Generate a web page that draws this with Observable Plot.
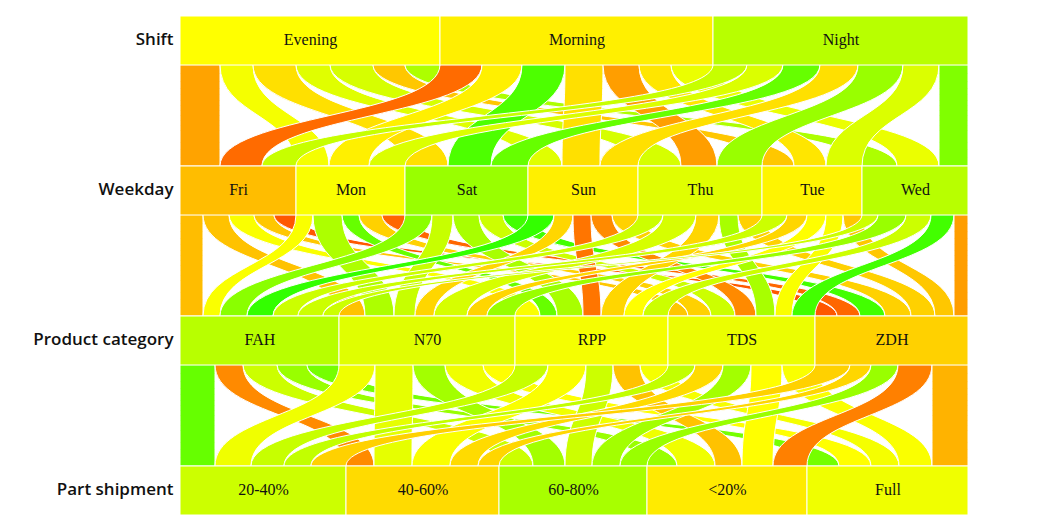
<!DOCTYPE html>
<html><head><meta charset="utf-8">
<script src="https://cdn.jsdelivr.net/npm/d3@7"></script>
<script src="https://cdn.jsdelivr.net/npm/@observablehq/plot@0.6"></script>
<style>body{margin:0;background:#fff;}</style>
</head><body><div id="chart"></div>
<script>
// ---- categories ----
const dimensions = ["Shift", "Weekday", "Product category", "Part shipment"];
const shifts = ["Evening", "Morning", "Night"];
const weekdays = ["Fri", "Mon", "Sat", "Sun", "Thu", "Tue", "Wed"];
const products = ["FAH", "N70", "RPP", "TDS", "ZDH"];
const parts = ["20-40%", "40-60%", "60-80%", "<20%", "Full"];

// ---- category scores (colour metric) ----
const shiftScore = [50, 47, 64];
const weekdayScore = [37, 51, 70, 47, 56, 48, 64];
const productScore = [64, 56, 52, 54, 41];
const partScore = [60, 43, 67, 46, 53];

// ---- flows: rows = upper dimension, columns = lower dimension ----
const shiftWeekdayCount = [
  [40, 33, 43, 34, 43, 32, 35],
  [42, 40, 43, 38, 36, 32, 42],
  [34, 36, 37, 38, 45, 36, 29]
];
const shiftWeekdayScore = [
  [32, 52, 44, 56, 58, 39, 66],
  [21, 47, 85, 44, 31, 45, 54],
  [61, 57, 80, 44, 70, 57, 75]
];
const weekdayProductCount = [
  [23, 26, 25, 20, 22],
  [17, 29, 17, 23, 23],
  [27, 21, 26, 24, 25],
  [26, 19, 18, 21, 26],
  [25, 33, 23, 19, 24],
  [25, 20, 19, 17, 19],
  [16, 28, 25, 23, 14]
];
const weekdayProductScore = [
  [37, 38, 51, 39, 17],
  [51, 66, 80, 41, 20],
  [73, 61, 67, 60, 87],
  [90, 42, 23, 27, 41],
  [60, 58, 42, 67, 41],
  [60, 42, 50, 51, 39],
  [60, 70, 60, 87, 31]
];
const productPartCount = [
  [35, 28, 34, 30, 32],
  [36, 38, 32, 38, 32],
  [33, 38, 27, 27, 28],
  [27, 28, 28, 31, 33],
  [35, 21, 27, 34, 36]
];
const productPartScore = [
  [80, 27, 60, 70, 77],
  [53, 55, 68, 53, 50],
  [61, 51, 60, 38, 52],
  [62, 43, 68, 50, 51],
  [41, 42, 70, 25, 35]
];

// ---- layout constants ----
const stride = 150, boxH = 49;
const levels = [
  {names: shifts, score: shiftScore},
  {names: weekdays, score: weekdayScore},
  {names: products, score: productScore},
  {names: parts, score: partScore}
];
const flows = [
  {count: shiftWeekdayCount, score: shiftWeekdayScore},
  {count: weekdayProductCount, score: weekdayProductScore},
  {count: productPartCount, score: productPartScore}
];

// category totals from flows
const totals = levels.map((lv, li) => {
  if (li < flows.length) return flows[li].count.map(r => d3.sum(r));
  const m = flows[li - 1].count;
  return lv.names.map((_, j) => d3.sum(m, r => r[j]));
});
const grand = d3.sum(totals[0]);

const boxes = [];
const starts = totals.map(t => { let s = 0; return t.map(v => { const a = s; s += v; return a; }); });
levels.forEach((lv, li) => lv.names.forEach((n, j) => {
  boxes.push({level: li, name: n, x1: starts[li][j], x2: starts[li][j] + totals[li][j], score: lv.score[j]});
}));

const ribbons = [];
flows.forEach((f, li) => {
  const m = f.count;
  const nS = m.length, nT = m[0].length;
  const bottomOff = [];
  for (let j = 0; j < nT; j++) {
    let o = starts[li + 1][j];
    for (let i = 0; i < nS; i++) { (bottomOff[i] ||= [])[j] = o; o += m[i][j]; }
  }
  for (let i = 0; i < nS; i++) {
    let o = starts[li][i];
    for (let j = 0; j < nT; j++) {
      const id = `${li}-${i}-${j}`;
      const w = m[i][j];
      ribbons.push({id, y: li * stride + boxH, xa: o, xb: o + w, score: f.score[i][j]});
      ribbons.push({id, y: (li + 1) * stride, xa: bottomOff[i][j], xb: bottomOff[i][j] + w, score: f.score[i][j]});
      o += w;
    }
  }
});

const chart = Plot.plot({
  width: 1041,
  height: 531,
  marginLeft: 180,
  marginRight: 73,
  marginTop: 16,
  marginBottom: 16,
  x: {domain: [0, grand], axis: null},
  y: {domain: [0, 3 * stride + boxH], range: [16, 515], axis: null},
  color: {type: "linear", domain: [0, 100], interpolate: t => d3.hsl(t * 120, 1, 0.5).toString()},
  marks: [
    Plot.areaX(ribbons, {y: "y", x1: "xa", x2: "xb", z: "id", fill: "score", curve: "bump-y", stroke: "white", strokeWidth: 1}),
    Plot.rect(boxes, {x1: "x1", x2: "x2", y1: d => d.level * stride, y2: d => d.level * stride + boxH, fill: "score", stroke: "white", strokeWidth: 1}),
    Plot.text(boxes, {x: d => (d.x1 + d.x2) / 2, y: d => d.level * stride + boxH / 2 - 1, text: "name", fontFamily: "Liberation Serif", fontSize: 16, fill: "#111"}),
    Plot.text(dimensions, {x: 0, y: (d, i) => i * stride + boxH / 2 - 1, text: d => d, textAnchor: "end", dx: -7, fontFamily: "Open Sans", fontWeight: 600, fontSize: 17, fill: "#111"})
  ]
});
document.getElementById("chart").appendChild(chart);
</script>
</body></html>
